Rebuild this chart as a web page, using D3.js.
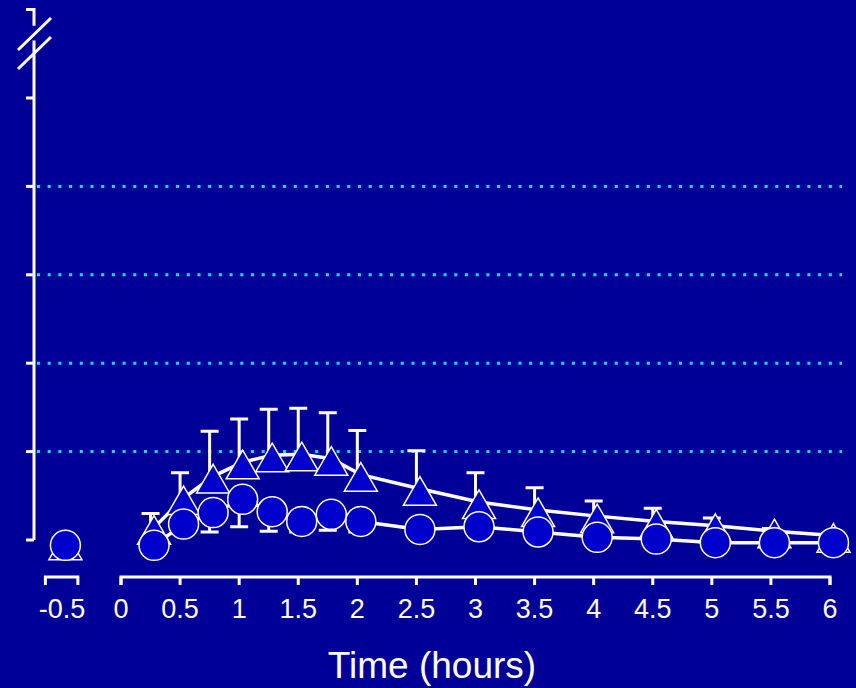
<!DOCTYPE html>
<html>
<head>
<meta charset="utf-8">
<script src="https://cdn.jsdelivr.net/npm/d3@7"></script>
<style>
  html, body { margin: 0; padding: 0; background: #000099; }
  svg { display: block; }
</style>
</head>
<body>
<div id="chart"></div>
<script>
// ---------- data ----------
const times       = [-0.5, 0.25, 0.5, 0.75, 1, 1.25, 1.5, 1.75, 2, 2.5, 3, 3.5, 4, 4.5, 5, 5.5, 6];
const triValues   = [-0.035, 0.14, 0.475, 0.72, 0.88, 0.96, 0.97, 0.92, 0.74, 0.58, 0.43, 0.34, 0.27, 0.21, 0.16, 0.10, 0.05];
const triErrUp    = [0, 0.16, 0.285, 0.51, 0.49, 0.52, 0.52, 0.52, 0.50, 0.43, 0.33, 0.25, 0.17, 0.15, 0.09, 0.03, 0.02];
const circValues  = [-0.06, -0.06, 0.18, 0.31, 0.46, 0.32, 0.21, 0.29, 0.21, 0.12, 0.15, 0.09, 0.03, 0.01, -0.03, -0.03, -0.03];
const circErrDown = [0, 0.05, 0.10, 0.22, 0.31, 0.22, 0.12, 0.18, 0.12, 0.08, 0.08, 0.06, 0.06, 0.05, 0.04, 0.04, 0.04];
const xTickValues = [0, 0.5, 1, 1.5, 2, 2.5, 3, 3.5, 4, 4.5, 5, 5.5, 6];
const xTickLabels = ["0", "0.5", "1", "1.5", "2", "2.5", "3", "3.5", "4", "4.5", "5", "5.5", "6"];
const preTick     = -0.5;
const preLabel    = "-0.5";
const yTickValues = [0, 1, 2, 3, 4, 5, 6];
const gridValues  = [1, 2, 3, 4];
const xTitle      = "Time (hours)";

// ---------- layout / style ----------
const W = 856, H = 688;
const bg = "#000099", markFill = "#0000CC", ink = "#ffffff", gridCol = "#00E5FF";
const x = d3.scaleLinear().domain([0, 6]).range([121, 830]);
const y = d3.scaleLinear().domain([0, 6]).range([540, 9.6]);
const axisX = 34, axisY = 577;
const markerDx = 3.5;
const circleR = 15;
const triSize = 0.433 * 33 * 33;

const svg = d3.select("#chart").append("svg").attr("width", W).attr("height", H);
svg.append("rect").attr("width", W).attr("height", H).attr("fill", bg);

// gridlines
svg.append("g").selectAll("line").data(gridValues).join("line")
  .attr("x1", axisX + 3).attr("x2", 842)
  .attr("y1", d => y(d)).attr("y2", d => y(d))
  .attr("stroke", gridCol).attr("stroke-width", 3)
  .attr("stroke-dasharray", "3,7.7");

// y axis with break
const brkTop = 5.65, brkBot = 5.85;
const yAxis = svg.append("g").attr("stroke", ink).attr("stroke-width", 3).attr("fill", "none");
yAxis.append("path").attr("d", `M${axisX},${y(0)}V${y(brkTop)}`);
yAxis.append("path").attr("d", `M${axisX - 8},${y(6)}H${axisX}V${y(brkBot) + 3}`);
yAxis.selectAll("line.t").data(yTickValues.filter(v => v <= 5)).join("line")
  .attr("x1", axisX - 8).attr("x2", axisX).attr("y1", d => y(d)).attr("y2", d => y(d));
// break marks
[0, 19].forEach(off => {
  yAxis.append("line")
    .attr("x1", 18).attr("y1", 50 + off)
    .attr("x2", 51).attr("y2", 18 + off);
});

// x axis (broken)
const xAxis = svg.append("g").attr("stroke", ink).attr("stroke-width", 3).attr("fill", "none");
const segs = [[preTick - 0.14, preTick + 0.135], [0, 6]];
segs.forEach(([a, b]) => {
  xAxis.append("path").attr("d", `M${x(a)},${axisY + 8}V${axisY}H${x(b)}V${axisY + 8}`);
});
xAxis.selectAll("line.t").data(xTickValues).join("line")
  .attr("x1", d => x(d)).attr("x2", d => x(d)).attr("y1", axisY).attr("y2", axisY + 8);

const labels = svg.append("g").attr("fill", ink)
  .attr("font-family", "Liberation Sans, Arial, sans-serif").attr("font-size", 27)
  .attr("text-anchor", "middle");
labels.selectAll("text").data(xTickValues).join("text")
  .attr("x", d => x(d)).attr("y", 618).text((d, i) => xTickLabels[i]);
labels.append("text").attr("x", x(preTick)).attr("y", 618).text(preLabel);

svg.append("text").attr("x", 432).attr("y", 678).attr("fill", ink)
  .attr("font-family", "Liberation Sans, Arial, sans-serif").attr("font-size", 37)
  .attr("text-anchor", "middle").text(xTitle);

// series helpers
const triType = {
  draw(ctx, size) {
    const s = Math.sqrt(size * 4 / Math.sqrt(3));
    const h = s * Math.sqrt(3) / 2;
    ctx.moveTo(0, -0.42 * h);
    ctx.lineTo(s / 2, 0.58 * h);
    ctx.lineTo(-s / 2, 0.58 * h);
    ctx.closePath();
  }
};
const idx = d3.range(times.length);
const mainIdx = idx.filter(i => times[i] >= 0);
const lineGen = vals => d3.line().x(i => x(times[i]) + markerDx).y(i => y(vals[i]));

function drawErr(vals, errs, dir) {
  const g = svg.append("g").attr("stroke", ink).attr("stroke-width", 3).attr("fill", "none");
  idx.filter(i => errs[i] > 0).forEach(i => {
    const cx = x(times[i]);
    const y0 = y(vals[i]), y1 = y(vals[i] + dir * errs[i]);
    g.append("path").attr("d", `M${cx},${y0}V${y1}M${cx - 9},${y1}H${cx + 9}`);
  });
}

// triangles series
drawErr(triValues, triErrUp, 1);
svg.append("path").datum(mainIdx).attr("d", lineGen(triValues))
  .attr("fill", "none").attr("stroke", ink).attr("stroke-width", 3.5);
svg.append("g").selectAll("path").data(idx).join("path")
  .attr("transform", i => `translate(${x(times[i]) + markerDx},${y(triValues[i])})`)
  .attr("d", d3.symbol().type(triType).size(triSize))
  .attr("fill", markFill).attr("stroke", ink).attr("stroke-width", 1.5);

// circles series
drawErr(circValues, circErrDown, -1);
svg.append("path").datum(mainIdx).attr("d", lineGen(circValues))
  .attr("fill", "none").attr("stroke", ink).attr("stroke-width", 3.5);
svg.append("g").selectAll("circle").data(idx).join("circle")
  .attr("cx", i => x(times[i]) + markerDx).attr("cy", i => y(circValues[i]))
  .attr("r", circleR)
  .attr("fill", markFill).attr("stroke", ink).attr("stroke-width", 1.5);
</script>
</body>
</html>
